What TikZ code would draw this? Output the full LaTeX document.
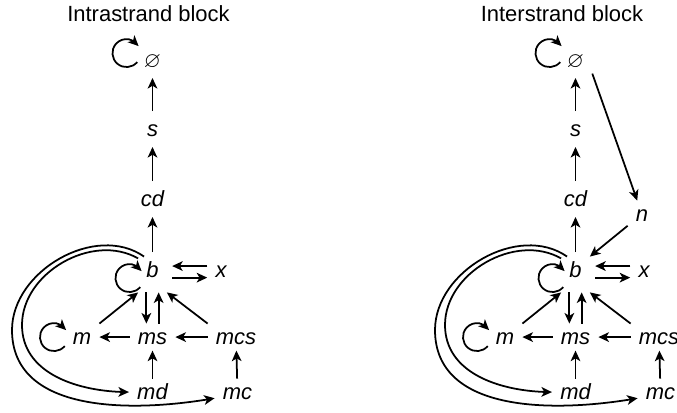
\documentclass[tikz,border=0pt]{standalone}
\usepackage{amssymb}
\usepackage{fontspec}
\setmainfont{Liberation Sans}
\usetikzlibrary{arrows.meta,bending}

\begin{document}
\begin{tikzpicture}[
    every node/.style={font=\fontsize{12.5}{15}\selectfont},
    state/.style={font=\fontsize{12.5}{15}\selectfont\itshape, anchor=base,
        inner xsep=4.5pt, inner ysep=3pt, text height=9pt, text depth=0pt},
    blocktitle/.style={anchor=base},
    edge/.style={line width=1pt, -{Stealth[length=6pt,width=5.5pt,inset=1.6pt]}},
    coledge/.style={edge, shorten <=2.5pt, shorten >=2.5pt},
]
\useasboundingbox (0,0) rectangle (13.54,8.26);

% Loop at a state: arc of radius 0.28 round a centre (#2,#3) off the node
\newcommand{\selfloop}[3]{%
    \draw[edge] ([shift={(#2+0.214,#3-0.180)}]#1.center)
        arc[start angle=-40, end angle=-330, radius=0.28];
}

% Both blocks share the same states and moves
\foreach \sx/\pre/\tx/\ttl in {0/L/2.97/Intrastrand block, 8.46/R/2.78/Interstrand block} {
\begin{scope}[shift={(\sx,0)}, name prefix=\pre-]
    \node[blocktitle] (title) at (\tx,7.82) {\ttl};

    % States
    \node[state] (empty) at (3.05,6.90) {$\varnothing$};
    \node[state] (s)     at (3.05,5.52) {s};
    \node[state] (cd)    at (3.05,4.12) {cd};
    \node[state] (b)     at (3.05,2.70) {b};
    \node[state] (x)     at (4.42,2.70) {x};
    \node[state] (m)     at (1.64,1.36) {m};
    \node[state] (ms)    at (3.05,1.36) {ms};
    \node[state] (mcs)   at (4.72,1.36) {mcs};
    \node[state] (md)    at (3.05,0.26) {md};
    \node[state] (mc)    at (4.75,0.26) {mc};

    % Self loops
    \selfloop{empty}{-0.52}{0.14}
    \selfloop{b}{-0.46}{-0.16}
    \selfloop{m}{-0.56}{0}

    % Moves up the column
    \draw[coledge] (s) -- (empty);
    \draw[coledge] (cd) -- (s);
    \draw[coledge] (b) -- (cd);

    % b <-> x
    \draw[edge] ([yshift=2.3pt]x.west) -- ([xshift=3pt,yshift=2.3pt]b.east);
    \draw[edge] ([xshift=3pt,yshift=-4.3pt]b.east) -- ([yshift=-4.3pt]x.west);

    % Into b from below
    \draw[edge] (m.north east) -- ([yshift=-5pt]b.south west);
    \draw[edge] ([xshift=-3.5pt,yshift=-5pt]b.south) -- ([xshift=-3.5pt]ms.north);
    \draw[edge] ([xshift=3.5pt]ms.north) -- ([xshift=3.5pt,yshift=-5pt]b.south);
    \draw[edge] (mcs.north west) -- ([yshift=-5pt]b.south east);

    % Lower rows
    \draw[edge] (ms) -- (m);
    \draw[edge] (mcs) -- (ms);
    \draw[edge] (md) -- (ms);
    \draw[edge] (mc) -- (mcs);

    % Long way round from b
    \coordinate (innerbend) at (0.44,1.76);
    \coordinate (outerbend) at (0.24,1.66);
    \draw[edge] (b.141) to[out=150, in=90] (innerbend)
        to[out=-90, in=180] (md.west);
    \draw[edge] (b.122) to[out=145, in=90] (outerbend)
        to[out=-90, in=190] (mc.195);
\end{scope}
}

% Extra state of the interstrand block
\node[state] (R-n) at (12.84,3.82) {n};
\draw[edge] (R-empty.south east) -- (R-n);
\draw[edge] (R-n) -- (R-b.north east);

\end{tikzpicture}
\end{document}
